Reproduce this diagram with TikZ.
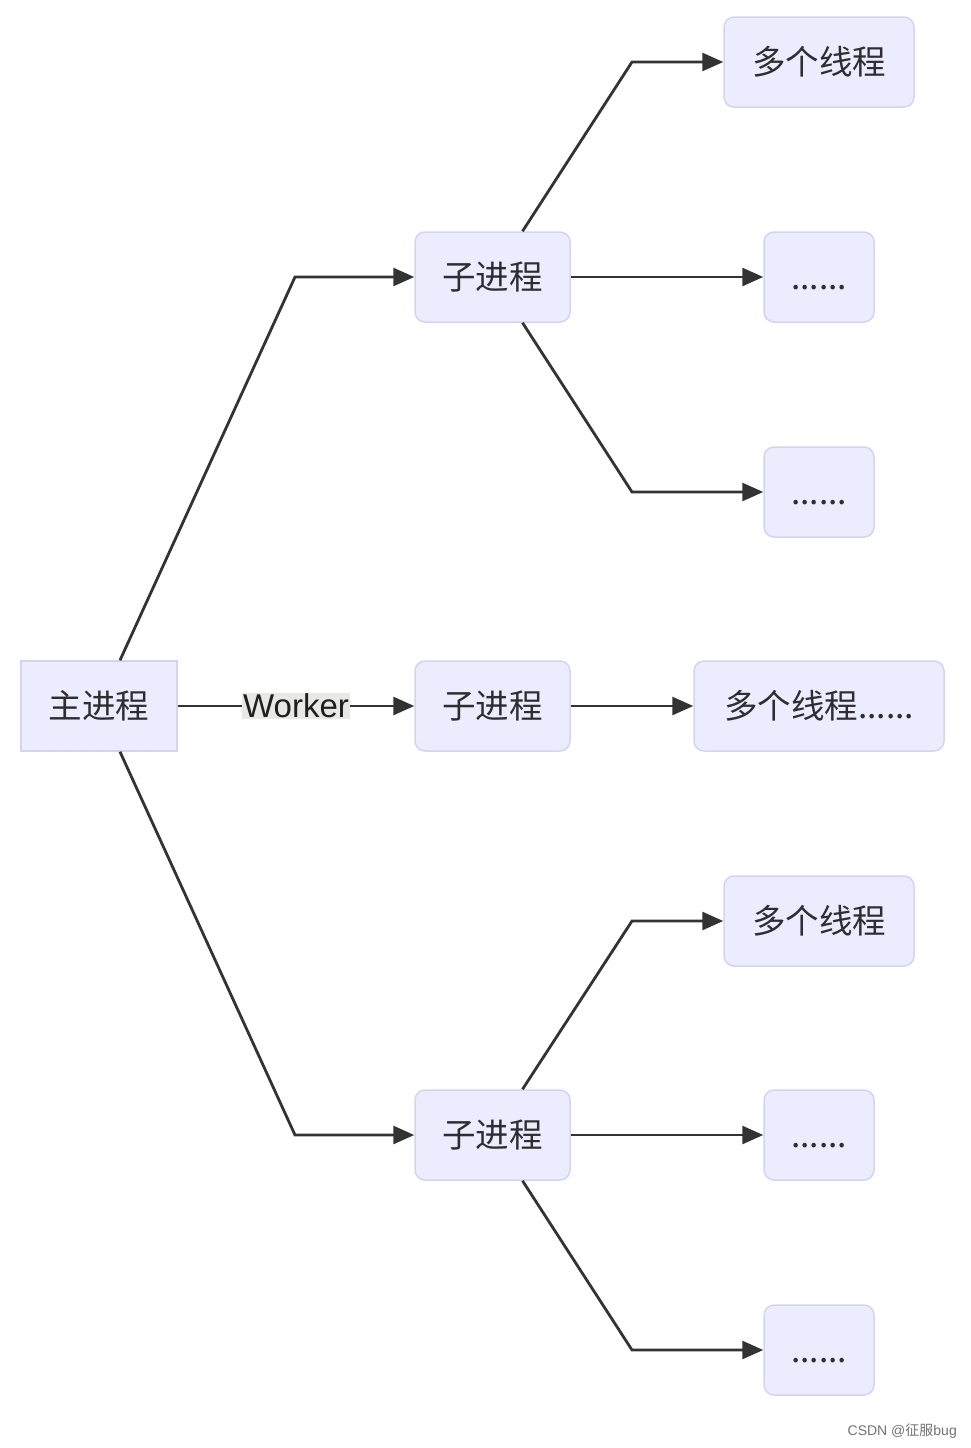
\documentclass[tikz,border=0pt]{standalone}
\usepackage{fontspec}
\setmainfont{Liberation Sans}
\newfontfamily\cjk{Noto Sans CJK SC}
\usetikzlibrary{arrows.meta}
\definecolor{boxfill}{HTML}{ECECFF}
\definecolor{boxline}{HTML}{D4D4F2}
\definecolor{edge}{HTML}{333333}
\definecolor{lblfill}{HTML}{E8E8E4}
\tikzset{
  box/.style={draw=boxline, line width=1.5pt, fill=boxfill, rounded corners=10pt,
    minimum height=90pt, inner sep=0pt, text height=29pt, text depth=5pt,
    font=\cjk\fontsize{33.5}{36}\selectfont, text=black!82},
  mainbox/.style={box, rounded corners=0pt},
  conn/.style={draw=edge, line width=2.8pt, -{Triangle[length=21pt,width=18pt]}},
  lbl/.style={fill=lblfill, inner sep=1pt, font=\fontsize{33}{35}\selectfont, text=black!88},
}
\begin{document}
\begin{tikzpicture}[x=1pt,y=-1pt]
\useasboundingbox[fill=white] (0,0) rectangle (971,1448);
% nodes
\node[mainbox, minimum width=156pt] (main) at (99,706) {主进程};
\node[box, minimum width=155pt] (s1) at (492.5,277) {子进程};
\node[box, minimum width=155pt] (s2) at (492.5,706) {子进程};
\node[box, minimum width=155pt] (s3) at (492.5,1135) {子进程};
\node[box, minimum width=190pt] (m1) at (819,62) {多个线程};
\node[box, minimum width=110pt] (d1) at (819,277) {......};
\node[box, minimum width=110pt] (d2) at (819,492) {......};
\node[box, minimum width=250pt] (m2) at (819,706) {多个线程......};
\node[box, minimum width=190pt] (m3) at (819,921) {多个线程};
\node[box, minimum width=110pt] (d3) at (819,1135) {......};
\node[box, minimum width=110pt] (d4) at (819,1350) {......};
% bend coordinates
\coordinate (b1) at (295,277);
\coordinate (b3) at (295,1135);
\coordinate (c1) at (632,62);
\coordinate (c2) at (632,492);
\coordinate (c3) at (632,921);
\coordinate (c4) at (632,1350);
% edges
\draw[conn] ([xshift=21pt]main.north) -- (b1) -- (s1.west);
\draw[conn] ([xshift=21pt]main.south) -- (b3) -- (s3.west);
\draw[conn] (main.east) -- node[lbl] {Worker} (s2.west);
\draw[conn] ([xshift=30pt]s1.north) -- (c1) -- (m1.west);
\draw[conn] (s1.east) -- (d1.west);
\draw[conn] ([xshift=30pt]s1.south) -- (c2) -- (d2.west);
\draw[conn] (s2.east) -- (m2.west);
\draw[conn] ([xshift=30pt]s3.north) -- (c3) -- (m3.west);
\draw[conn] (s3.east) -- (d3.west);
\draw[conn] ([xshift=30pt]s3.south) -- (c4) -- (d4.west);
% watermark
\node[text=black!55, font=\fontsize{14}{16}\selectfont, anchor=east, inner sep=0pt] (wm) at (957,1431) {CSDN @{\cjk 征服}bug};
\end{tikzpicture}
\end{document}
